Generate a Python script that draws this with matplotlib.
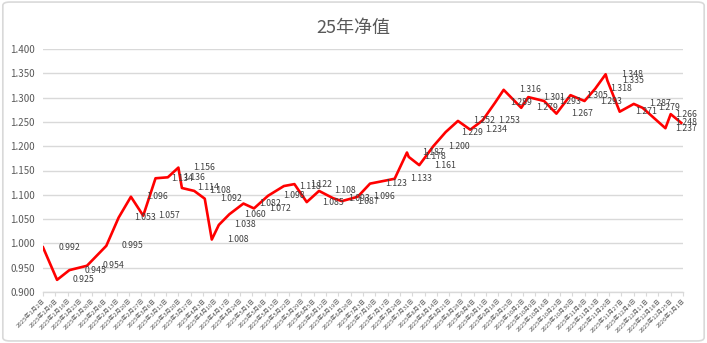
import matplotlib.pyplot as plt
import matplotlib.dates as mdates
from matplotlib.patches import FancyBboxPatch
import pandas as pd

plt.rcParams['font.family'] = ['Noto Sans CJK SC', 'DejaVu Sans']

# 25年净值 data (date, nav)
dates = ['2025-01-02', '2025-01-10', '2025-01-17', '2025-01-27', '2025-02-07',
         '2025-02-14', '2025-02-21', '2025-02-28', '2025-03-07', '2025-03-14',
         '2025-03-20', '2025-03-22', '2025-03-29', '2025-04-04', '2025-04-08',
         '2025-04-12', '2025-04-18', '2025-04-26', '2025-05-02', '2025-05-10',
         '2025-05-19', '2025-05-25', '2025-06-01', '2025-06-08', '2025-06-16',
         '2025-06-21', '2025-06-30', '2025-07-07', '2025-07-21', '2025-07-28',
         '2025-07-29', '2025-08-04', '2025-08-12', '2025-08-19', '2025-08-26',
         '2025-09-02', '2025-09-09', '2025-09-16', '2025-09-21', '2025-10-01',
         '2025-10-05', '2025-10-14', '2025-10-21', '2025-10-29', '2025-11-06',
         '2025-11-12', '2025-11-18', '2025-11-19', '2025-11-26', '2025-12-04',
         '2025-12-09', '2025-12-22', '2025-12-25', '2025-12-31']
nav = [0.992, 0.925, 0.945, 0.954, 0.995,
       1.053, 1.096, 1.057, 1.134, 1.136,
       1.156, 1.114, 1.108, 1.092, 1.008,
       1.038, 1.060, 1.082, 1.072, 1.098,
       1.118, 1.122, 1.085, 1.108, 1.093,
       1.087, 1.096, 1.123, 1.133, 1.187,
       1.178, 1.161, 1.200, 1.229, 1.252,
       1.234, 1.253, 1.289, 1.316, 1.279,
       1.301, 1.293, 1.267, 1.305, 1.293,
       1.318, 1.348, 1.335, 1.271, 1.287,
       1.279, 1.237, 1.266, 1.248]
title = '25年净值'

x = pd.to_datetime(dates)
ticks = pd.date_range('2025-01-02', '2026-01-01', freq='7D')
tick_labels = [f'{d.year}年{d.month}月{d.day}日' for d in ticks]

fig = plt.figure(figsize=(7.07, 3.43), dpi=100)
ax = fig.add_axes([43 / 707, 1 - 292 / 343, 640 / 707, 243 / 343])

# chart area border
fig.patches.append(FancyBboxPatch((0.004, 0.006), 0.992, 0.988, boxstyle='round,pad=0,rounding_size=0.01',
                                  transform=fig.transFigure, fill=False, edgecolor='#d9d9d9', linewidth=1.2))

ax.plot(x, nav, color='#ff0000', linewidth=1.9, zorder=3)

ax.set_ylim(0.9, 1.4)
ax.set_yticks([0.9 + 0.05 * i for i in range(11)])
ax.yaxis.set_major_formatter(plt.FuncFormatter(lambda v, p: f'{v:.3f}'))
ax.set_xlim(ticks[0], ticks[-1])
ax.set_xticks(ticks)
ax.set_xticklabels(tick_labels, rotation=45, ha='right', rotation_mode='anchor',
                   fontsize=4.3, color='#595959')

# data labels to the right of each point, kept inside the chart area like Excel does
for xi, v in zip(x, nav):
    px = ax.transData.transform((mdates.date2num(xi), v))[0]
    if px + 15 + 20 > 698:
        ax.annotate(f'{v:.3f}', (xi, v), xytext=(697, v), textcoords=('figure pixels', 'data'),
                    ha='right', va='center', fontsize=6.3, color='#404040', zorder=4)
    else:
        ax.annotate(f'{v:.3f}', (xi, v), xytext=(11, 0), textcoords='offset points',
                    ha='left', va='center', fontsize=6.3, color='#404040', zorder=4)

ax.grid(axis='y', color='#d9d9d9', linewidth=1)
ax.set_axisbelow(True)
for s in ['top', 'right', 'left']:
    ax.spines[s].set_visible(False)
ax.spines['bottom'].set_color('#d9d9d9')
ax.spines['bottom'].set_linewidth(1)
ax.tick_params(axis='y', length=0, labelsize=7, labelcolor='#595959', pad=6)
ax.tick_params(axis='x', length=3, color='#d9d9d9', pad=1)

fig.text(0.5, 1 - 28 / 343, title, ha='center', va='center', fontsize=13, color='#595959')

fig.savefig('out.png', dpi=100)
